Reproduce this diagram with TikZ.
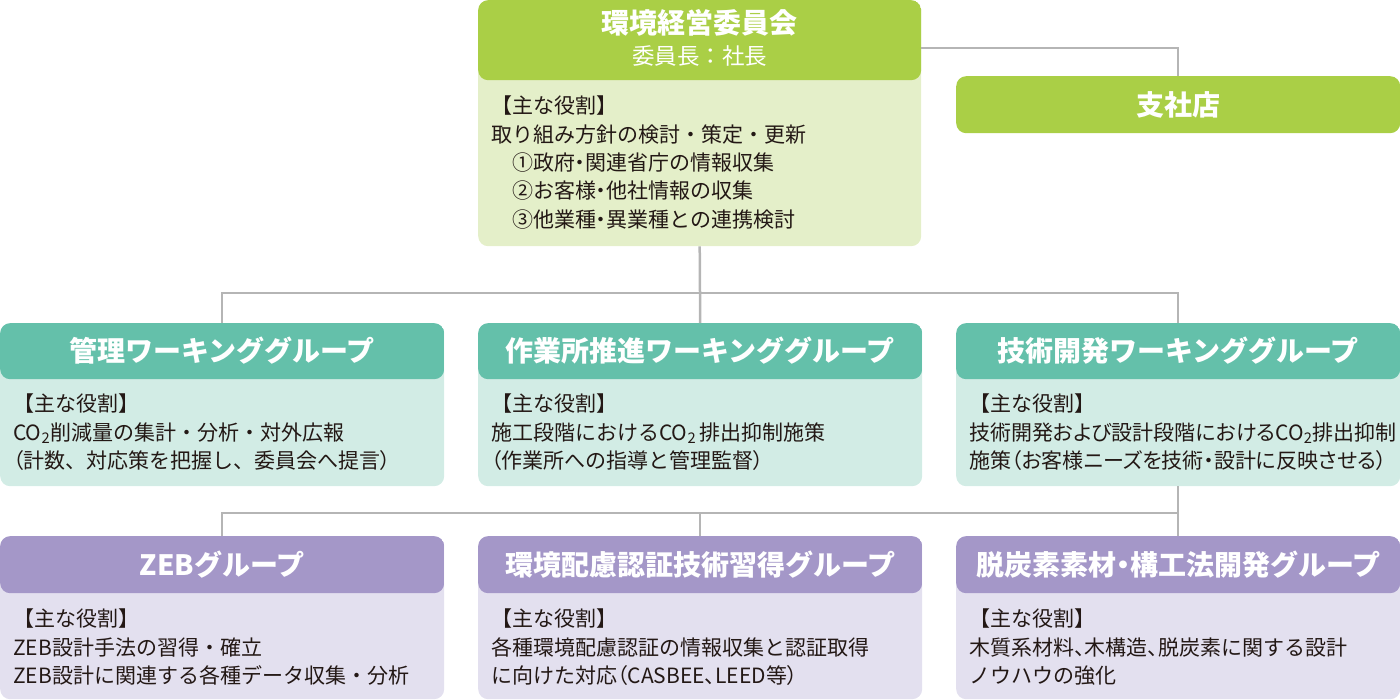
\documentclass[tikz,border=0pt]{standalone}
\usepackage{fontspec}
\setmainfont{Noto Sans CJK JP}
\usetikzlibrary{positioning}
\definecolor{headG}{HTML}{AACF46}
\definecolor{bodyG}{HTML}{E4EFC9}
\definecolor{headT}{HTML}{64C0AA}
\definecolor{bodyT}{HTML}{D2ECE5}
\definecolor{headP}{HTML}{A497C8}
\definecolor{bodyP}{HTML}{E3E0EF}
\definecolor{linegray}{HTML}{B5B5B5}
\definecolor{ink}{HTML}{231815}
% proportional widths for punctuation and kana
\newcommand\narrow[1]{{\addfontfeature{RawFeature=+palt}#1}}

\begin{document}
\begin{tikzpicture}[x=1pt, y=-1pt,
  box/.style={rounded corners=10pt, inner sep=0pt, anchor=north west, minimum width=444pt},
  unit/.style n args={3}{box, fill=#2, path picture={\fill[#1] (path picture bounding box.north west) rectangle ([yshift=-#3pt]path picture bounding box.north east);}},
  topunit/.style={unit={headG}{bodyG}{80}, minimum width=443pt, minimum height=246pt},
  wgunit/.style={unit={headT}{bodyT}{56}, minimum height=163pt},
  grpunit/.style={unit={headP}{bodyP}{57}, minimum height=163pt},
  title/.style={inner sep=0pt, text=white, font=\fontsize{28}{30}\selectfont\bfseries},
  role/.style={anchor=north west, align=left, inner sep=0pt, text=ink, font=\fontsize{21}{28.3}\selectfont},
  link/.style={draw=linegray, line width=2.5pt}]
\useasboundingbox (0,0) rectangle (1400,700);

% connectors
\coordinate (bus1) at (699,293);
\coordinate (bus2) at (1178,513);

% boxes
\node[topunit] (iinkai) at (478,0) {};
\node[box, fill=headG, minimum height=57pt] (shisha) at (956,76) {};
\node[wgunit] (kanri) at (0,323) {};
\node[wgunit] (sagyo) at (478,323) {};
\node[wgunit] (gijutsu) at (956,323) {};
\node[grpunit] (zeb) at (0,536) {};
\node[grpunit] (kankyo) at (478,536) {};
\node[grpunit] (datsu) at (956,536) {};

\draw[link] ([yshift=-48pt]iinkai.north east) -| (shisha.north);
\draw[link] (iinkai.south) -- (sagyo.north);
\draw[link] (kanri.north) |- (bus1) -| (gijutsu.north);
\draw[link] (gijutsu.south) -- (datsu.north);
\draw[link] (zeb.north) |- (bus2);
\draw[link] (kankyo.north) -- (kankyo.north |- bus2);

% titles
\node[title] (iinkai-t) at ([yshift=-23pt]iinkai.north) {環境経営委員会};
\node[title, font=\fontsize{22.5}{26}\selectfont] (iinkai-s) at ([yshift=-56pt]iinkai.north) {委員長：社長};
\node[title] (shisha-t) at (shisha.center) {支社店};
\node[title] (kanri-t) at ([yshift=-28pt]kanri.north) {管理ワーキンググループ};
\node[title] (sagyo-t) at ([yshift=-28pt]sagyo.north) {作業所推進ワーキンググループ};
\node[title] (gijutsu-t) at ([yshift=-28pt]gijutsu.north) {技術開発ワーキンググループ};
\node[title] (zeb-t) at ([yshift=-28.5pt]zeb.north) {ZEBグループ};
\node[title] (kankyo-t) at ([yshift=-28.5pt]kankyo.north) {環境配慮認証技術習得グループ};
\node[title] (datsu-t) at ([yshift=-28.5pt]datsu.north) {脱炭素素材\narrow{・}構工法開発グループ};

% roles
\node[role] (iinkai-r) at ([xshift=13pt, yshift=-96pt]iinkai.north west)
  {【主な役割】\\取り組み方針の検討・策定・更新\\\hspace*{1em}①政府\narrow{・}関連省庁の情報収集\\\hspace*{1em}②お客様\narrow{・}他社情報の収集\\\hspace*{1em}③他業種\narrow{・}異業種との連携検討};
\node[role] (kanri-r) at ([xshift=13pt, yshift=-71pt]kanri.north west)
  {【主な役割】\\CO\textsubscript{2}削減量の集計・分析・対外広報\\\narrow{（}計数、対応策を把握し、委員会へ提言\narrow{）}};
\node[role] (sagyo-r) at ([xshift=13pt, yshift=-71pt]sagyo.north west)
  {【主な役割】\\施工段階におけるCO\textsubscript{2}\,排出抑制施策\\\narrow{（}作業所への指導と管理監督\narrow{）}};
\node[role] (gijutsu-r) at ([xshift=13pt, yshift=-71pt]gijutsu.north west)
  {【主な役割】\\\narrow{技術開発および設計段階におけるCO\textsubscript{2}排出抑制}\\\narrow{施策（お客様ニーズを技術・設計に反映させる）}};
\node[role] (zeb-r) at ([xshift=13pt, yshift=-73pt]zeb.north west)
  {【主な役割】\\ZEB設計手法の習得・確立\\ZEB設計に関連する各種データ収集・分析};
\node[role] (kankyo-r) at ([xshift=13pt, yshift=-73pt]kankyo.north west)
  {【主な役割】\\各種環境配慮認証の情報収集と認証取得\\に向けた対応\narrow{（}CASBEE\narrow{、}LEED等\narrow{）}};
\node[role] (datsu-r) at ([xshift=13pt, yshift=-73pt]datsu.north west)
  {【主な役割】\\木質系材料\narrow{、}木構造\narrow{、}脱炭素に関する設計\\ノウハウの強化};
\end{tikzpicture}
\end{document}
